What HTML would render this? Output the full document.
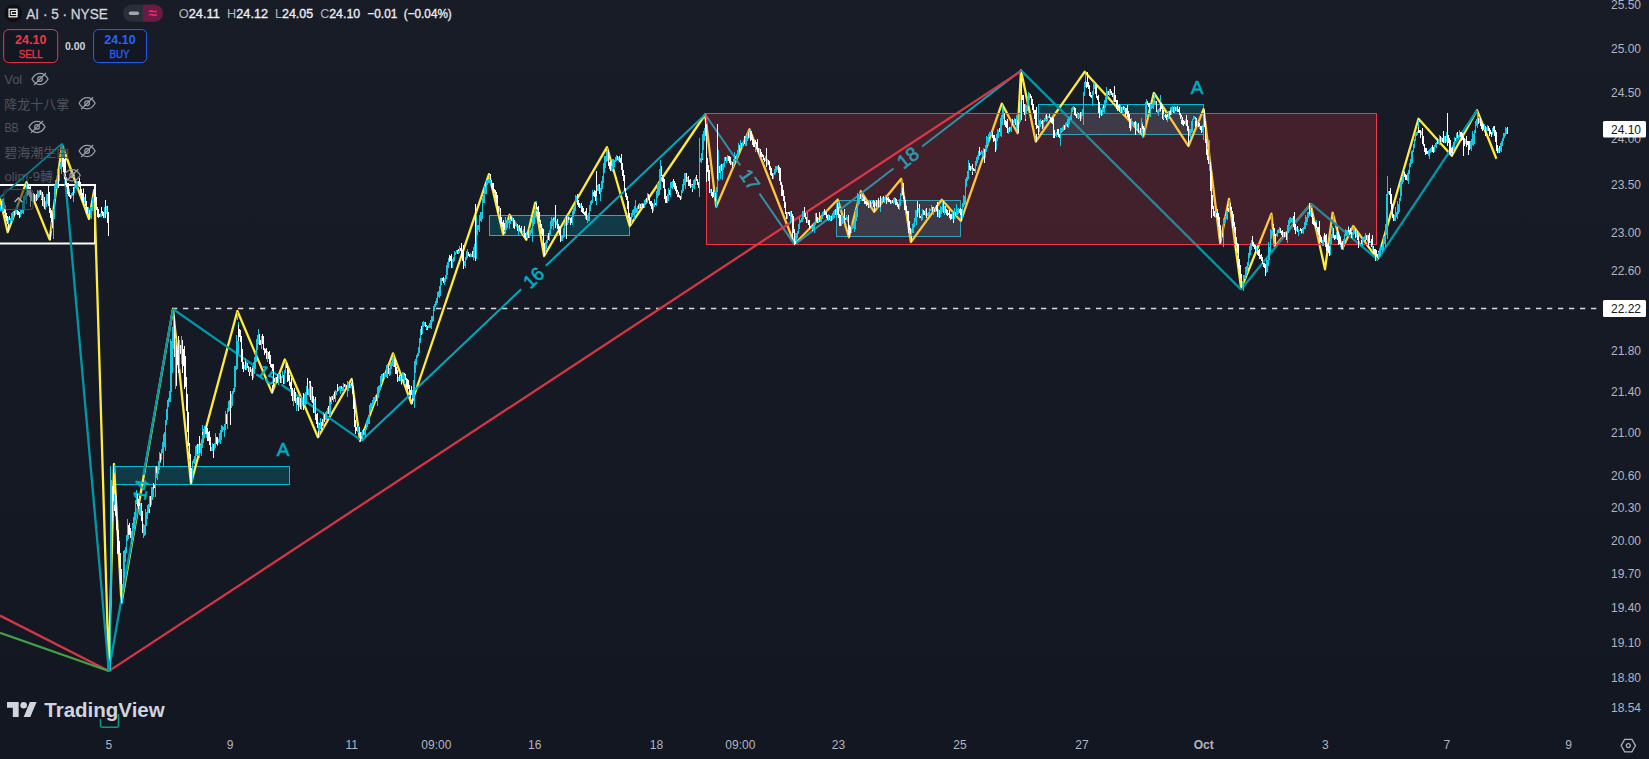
<!DOCTYPE html>
<html><head><meta charset="utf-8"><title>AI 24.10 chart</title>
<style>
html,body{margin:0;padding:0;background:#131722;}
body{width:1649px;height:759px;overflow:hidden;position:relative;font-family:"Liberation Sans","Noto Sans CJK SC",sans-serif;}
svg{position:absolute;left:0;top:0;display:block}
text{font-family:"Liberation Sans","Noto Sans CJK SC",sans-serif;}
</style></head><body>
<svg width="1649" height="759" viewBox="0 0 1649 759">
<defs><linearGradient id="bg" x1="0" y1="0" x2="0" y2="1"><stop offset="0" stop-color="#181c27"/><stop offset="0.965" stop-color="#131722"/><stop offset="1" stop-color="#131722"/></linearGradient></defs>
<rect width="1649" height="759" fill="url(#bg)"/>
<!-- indicator boxes -->
<g fill="rgba(0,188,212,0.2)" stroke="#00bcd4" stroke-width="1">
<rect x="113.5" y="466.5" width="176" height="18"/>
<rect x="489.5" y="215.5" width="140" height="20"/>
<rect x="836.5" y="200.5" width="124" height="36"/>
<rect x="1038.5" y="104.5" width="165" height="30"/>
</g>
<!-- white range box -->
<rect x="-5" y="185" width="100" height="58.5" fill="none" stroke="#ffffff" stroke-width="2"/>
<!-- dashed level -->
<path d="M172 308.5H1597" stroke="#d9d9d9" stroke-width="1.3" stroke-dasharray="5.3 5.7" fill="none"/>
<!-- yellow zigzag -->
<polyline points="0.0,198.5 7.7,232.2 26.5,182.2 49.7,239.6 62.0,145.0 89.0,219.0 94.2,190.0 108.8,670.5 114.0,464.0 121.5,603.0 173.0,309.0 191.0,483.4 237.4,311.0 272.0,392.6 284.8,359.5 318.0,437.2 351.6,379.0 360.1,441.2 393.0,353.4 411.5,403.5 489.0,174.2 503.2,234.3 509.6,214.8 526.3,239.7 535.2,202.7 544.1,256.0 607.0,147.2 629.7,226.0 705.2,114.5 716.2,206.7 749.5,129.2 794.6,244.0 837.8,199.5 848.9,237.3 860.8,191.0 874.2,211.8 901.2,178.8 910.9,242.1 941.8,199.7 960.9,220.9 1001.8,103.6 1017.6,133.3 1021.0,70.4 1035.8,141.5 1084.6,71.8 1143.4,136.3 1153.9,92.8 1188.5,146.1 1203.6,109.3 1220.2,243.3 1229.0,198.8 1241.2,288.5 1271.4,213.6 1274.8,246.4 1310.6,204.2 1325.0,269.3 1332.6,212.6 1342.3,248.6 1353.2,226.0 1377.6,259.2 1418.5,118.8 1451.8,155.8 1477.0,110.3 1496.4,158.8" fill="none" stroke="#ffeb3b" stroke-width="2.3" stroke-linejoin="round"/>
<!-- teal zigzag -->
<g fill="none" stroke="#0097a7" stroke-width="2.3" stroke-linecap="butt">
<path stroke="#008594" stroke-width="1.6" d="M0.0 197.6L62.0 143.7"/>
<path d="M62.0 143.7L108.8 670.5"/>
<path d="M108.8 670.5L138.3 504.5M143.5 475.0L173.0 309.0"/>
<path d="M173.0 309.0L253.4 365.1M281.3 384.5L361.7 440.6"/>
<path stroke="#00a8bd" stroke-width="2" d="M361.7 440.6L521.1 289.3M545.8 265.8L705.2 114.5"/>
<path stroke="#00a8bd" stroke-width="2" d="M705.2 114.5L740.3 165.5M759.5 193.6L794.6 244.6"/>
<path stroke="#00a8bd" stroke-width="2" d="M794.6 244.6L893.5 168.5M922.1 146.5L1021.0 70.4"/>
<path d="M1021.0 70.4L1241.0 289.5"/>
<path d="M1241.0 289.5L1311.0 203.6"/>
<path d="M1311.0 203.6L1377.6 259.5"/>
<path d="M1377.6 259.5L1477.0 110.3"/>
</g>
<g fill="#00b0c6" stroke="#00b0c6" stroke-width="0.6" font-family='"Liberation Sans","Noto Sans CJK SC",sans-serif'>
<text x="140.9" y="489.8" font-size="18.5" text-anchor="middle" dominant-baseline="central" transform="rotate(-79.9 140.9 489.8)">14</text>
<text x="267.4" y="374.8" font-size="18.5" text-anchor="middle" dominant-baseline="central" transform="rotate(34.9 267.4 374.8)">15</text>
<text x="533.5" y="277.6" font-size="18.5" text-anchor="middle" dominant-baseline="central" transform="rotate(-43.5 533.5 277.6)">16</text>
<text x="749.9" y="179.6" font-size="18.5" text-anchor="middle" dominant-baseline="central" transform="rotate(55.5 749.9 179.6)">17</text>
<text x="907.8" y="157.5" font-size="19.5" text-anchor="middle" dominant-baseline="central" transform="rotate(-37.6 907.8 157.5)">18</text>
</g>
<!-- trend lines -->
<path d="M0 615.6L108.8 671.1L1021 71.1" fill="none" stroke="#d43646" stroke-width="2.3" stroke-linejoin="round"/>
<path d="M0 632.8L108.8 671" fill="none" stroke="#43a047" stroke-width="2.2"/>
<!-- red zone -->
<rect x="706.5" y="113.5" width="670" height="131" fill="rgba(242,54,69,0.2)" stroke="#f23645" stroke-width="1"/>
<!-- candles -->
<path d="M1.5 201V209M4.5 202V213M5.5 205V218M6.5 213V221M7.5 216V224M8.5 224V232M9.5 216V220M14.5 211V215M17.5 209V215M18.5 211V215M19.5 212V218M27.5 185V196M28.5 184V195M29.5 187V197M30.5 186V207M31.5 194V201M33.5 193V198M34.5 194V202M36.5 194V201M40.5 190V195M41.5 199V200M42.5 192V206M44.5 197V209M48.5 185V206M49.5 192V213M50.5 208V218M50.5 232V240M51.5 210V222M52.5 214V228M58.5 175V188M62.5 157V167M63.5 157V172M64.5 159V179M65.5 158V185M66.5 177V187M67.5 183V194M68.5 183V196M69.5 192V197M70.5 195V199M73.5 187V195M78.5 181V186M79.5 178V187M80.5 182V195M81.5 189V200M82.5 193V202M83.5 189V205M85.5 194V206M86.5 201V214M87.5 207V213M89.5 210V219M94.5 187V202M95.5 192V206M96.5 197V210M97.5 207V217M98.5 209V218M99.5 214V217M101.5 207V213M102.5 211V216M103.5 212V218M105.5 200V218M107.5 206V223M108.5 212V236M112.5 486V521M113.5 470V501M114.5 505V511M115.5 490V516M116.5 496V530M117.5 520V554M118.5 530V553M119.5 541V568M120.5 553V584M121.5 569V603M128.5 525V535M129.5 523V535M130.5 528V538M137.5 494V506M138.5 499V509M139.5 504V506M141.5 503V521M142.5 511V533M149.5 509V513M150.5 496V507M153.5 483V489M154.5 485V488M156.5 466V473M160.5 454V462M174.5 316V357M176.5 345V386M177.5 350V365M178.5 336V373M180.5 345V354M182.5 340V373M183.5 349V366M184.5 346V389M185.5 356V387M186.5 377V411M187.5 394V432M188.5 412V446M189.5 443V459M190.5 454V482M191.5 468V483M197.5 444V454M199.5 436V453M202.5 432V435M205.5 430V434M206.5 425V434M207.5 428V441M208.5 432V441M209.5 431V445M210.5 437V451M213.5 444V458M216.5 437V444M217.5 437V445M226.5 414V424M230.5 391V425M238.5 325V341M239.5 329V337M240.5 330V342M241.5 336V362M242.5 349V369M243.5 362V372M245.5 361V370M247.5 363V368M248.5 366V372M249.5 372V376M250.5 367V372M252.5 368V380M259.5 334V345M260.5 340V345M262.5 334V344M263.5 336V350M264.5 348V355M265.5 349V353M266.5 348V359M268.5 352V359M269.5 351V364M270.5 355V367M271.5 364V368M272.5 364V371M272.5 385V393M273.5 364V386M274.5 378V382M276.5 377V381M277.5 374V383M280.5 374V383M283.5 375V384M286.5 365V368M287.5 363V382M288.5 370V381M289.5 375V386M290.5 382V389M291.5 378V396M292.5 388V401M294.5 388V401M295.5 392V403M297.5 397V405M298.5 397V411M300.5 398V409M303.5 393V410M307.5 378V395M309.5 381V383M310.5 381V400M312.5 387V403M313.5 396V413M315.5 397V420M316.5 414V424M317.5 413V428M318.5 431V437M319.5 423V425M321.5 422V430M322.5 419V426M324.5 414V422M328.5 406V414M330.5 397V402M332.5 396V400M334.5 392V399M337.5 384V391M341.5 386V389M344.5 384V387M346.5 385V388M349.5 384V388M351.5 383V386M352.5 380V394M353.5 386V409M354.5 398V427M355.5 420V434M356.5 427V431M359.5 427V434M360.5 432V441M363.5 429V434M376.5 395V401M383.5 373V378M387.5 377V378M388.5 366V374M394.5 359V367M395.5 360V374M396.5 367V374M397.5 370V382M399.5 375V381M401.5 375V384M404.5 373V375M405.5 374V380M406.5 378V387M407.5 379V390M408.5 380V389M409.5 385V395M410.5 390V398M411.5 386V395M412.5 398V404M421.5 326V335M425.5 322V327M426.5 325V326M426.5 329V330M427.5 326V330M442.5 278V281M443.5 277V283M449.5 255V262M450.5 256V261M451.5 254V268M457.5 250V254M458.5 249V251M460.5 248V251M461.5 243V257M462.5 250V261M463.5 245V269M468.5 252V256M469.5 254V257M472.5 251V257M475.5 204V261M490.5 174V180M491.5 180V188M492.5 183V190M493.5 183V193M494.5 189V193M495.5 190V198M496.5 192V203M497.5 195V213M498.5 206V211M500.5 208V223M501.5 217V224M502.5 222V227M503.5 220V234M504.5 223V230M504.5 232V233M510.5 216V219M511.5 217V221M513.5 218V228M514.5 220V229M517.5 224V231M519.5 225V230M520.5 228V231M521.5 226V234M524.5 226V237M525.5 233V240M526.5 238V240M528.5 234V238M536.5 203V209M537.5 207V210M538.5 206V220M539.5 212V222M540.5 220V228M541.5 224V234M542.5 228V236M543.5 229V250M544.5 243V256M548.5 233V240M553.5 218V220M555.5 205V228M557.5 219V229M558.5 224V232M559.5 226V235M560.5 227V242M566.5 216V239M568.5 217V220M570.5 218V225M571.5 217V223M577.5 194V205M578.5 200V207M579.5 203V208M581.5 203V212M582.5 206V213M583.5 208V214M584.5 212V215M585.5 211V216M586.5 208V220M593.5 192V196M594.5 190V197M595.5 191V201M596.5 171V196M599.5 184V194M608.5 150V166M609.5 162V169M610.5 162V171M617.5 156V160M619.5 156V162M620.5 158V163M621.5 154V170M622.5 163V176M623.5 170V181M624.5 175V191M625.5 188V197M626.5 193V200M627.5 196V209M628.5 201V218M629.5 213V225M630.5 217V226M638.5 205V209M640.5 204V208M642.5 204V207M643.5 204V208M646.5 198V202M648.5 194V200M649.5 196V204M650.5 201V206M651.5 201V209M652.5 203V213M655.5 203V205M661.5 166V176M662.5 175V182M663.5 178V188M664.5 179V199M665.5 189V203M666.5 196V203M669.5 190V195M673.5 179V187M674.5 181V189M675.5 183V191M676.5 186V194M677.5 190V192M677.5 195V197M678.5 192V197M679.5 195V198M680.5 196V200M686.5 173V182M688.5 176V186M689.5 180V186M690.5 179V188M692.5 184V185M692.5 189V192M696.5 175V181M697.5 179V185M698.5 182V188M702.5 159V160M705.5 118V136M706.5 124V182M707.5 158V172M708.5 165V181M709.5 170V193M711.5 189V196M712.5 192V198M713.5 190V197M715.5 193V201M717.5 124V179M719.5 166V173M721.5 164V171M725.5 157V161M728.5 156V161M729.5 156V163M730.5 157V165M732.5 162V167M735.5 156V159M739.5 145V152M741.5 143V146M744.5 136V144M748.5 132V138M750.5 131V141M751.5 131V140M752.5 135V145M753.5 139V147M754.5 141V147M755.5 140V144M756.5 142V149M757.5 139V152M758.5 148V154M760.5 149V157M761.5 152V157M762.5 154V157M763.5 155V160M764.5 158V162M766.5 148V167M768.5 160V165M769.5 161V170M770.5 166V175M771.5 168V176M772.5 173V179M778.5 165V173M779.5 167V181M780.5 168V185M781.5 182V196M782.5 185V196M783.5 190V201M784.5 196V208M785.5 202V214M786.5 212V219M788.5 212V214M789.5 212V216M791.5 211V217M792.5 214V239M793.5 216V233M794.5 229V245M795.5 241V244M804.5 207V217M805.5 213V219M806.5 217V223M808.5 220V225M809.5 220V230M810.5 226V228M812.5 225V226M812.5 230V231M816.5 213V221M817.5 217V223M819.5 212V222M824.5 209V215M825.5 212V215M826.5 212V218M827.5 215V220M829.5 215V220M831.5 216V221M835.5 209V215M837.5 203V215M838.5 207V218M839.5 214V226M840.5 215V226M844.5 209V223M845.5 218V220M848.5 215V235M849.5 225V237M850.5 227V233M860.5 194V199M862.5 195V197M862.5 199V201M863.5 197V201M864.5 197V204M865.5 201V204M866.5 201V206M867.5 202V205M868.5 203V208M870.5 201V207M873.5 200V207M874.5 201V212M876.5 200V207M878.5 198V207M880.5 196V207M883.5 196V202M886.5 197V204M887.5 198V200M888.5 197V202M889.5 199V202M890.5 200V204M892.5 200V203M895.5 198V205M896.5 199V205M897.5 202V207M898.5 204V209M902.5 188V195M903.5 183V199M904.5 196V210M905.5 200V210M906.5 206V214M907.5 211V221M908.5 211V233M909.5 221V230M910.5 228V234M911.5 236V242M917.5 201V217M919.5 204V218M920.5 216V218M923.5 210V215M924.5 211V215M926.5 208V218M932.5 207V212M933.5 207V208M934.5 209V212M936.5 205V211M937.5 202V217M939.5 210V218M943.5 201V213M945.5 206V213M946.5 209V215M947.5 210V216M948.5 213V215M949.5 210V218M950.5 214V220M951.5 214V219M953.5 213V223M955.5 212V216M959.5 209V213M960.5 208V215M961.5 209V221M969.5 163V170M970.5 166V171M972.5 164V169M972.5 172V175M973.5 168V171M974.5 169V171M979.5 147V156M984.5 149V163M989.5 137V138M992.5 132V138M993.5 135V142M994.5 135V141M995.5 138V152M999.5 128V132M1004.5 113V125M1005.5 120V127M1006.5 121V128M1007.5 119V133M1009.5 127V132M1012.5 119V125M1015.5 119V125M1017.5 120V126M1018.5 122V133M1021.5 72V120M1022.5 95V100M1023.5 95V112M1024.5 104V115M1025.5 119V121M1030.5 94V98M1031.5 96V105M1032.5 99V110M1033.5 104V113M1034.5 110V119M1035.5 110V125M1036.5 107V129M1036.5 134V142M1037.5 125V128M1038.5 126V135M1041.5 121V124M1042.5 120V129M1046.5 114V119M1049.5 114V118M1050.5 117V122M1051.5 118V123M1052.5 117V124M1053.5 118V138M1054.5 130V138M1057.5 129V135M1058.5 129V137M1059.5 134V138M1064.5 125V130M1067.5 124V127M1074.5 107V115M1075.5 108V116M1076.5 114V118M1078.5 113V114M1078.5 118V119M1080.5 112V121M1085.5 81V82M1086.5 82V88M1087.5 72V87M1088.5 82V89M1089.5 85V96M1090.5 92V97M1091.5 95V98M1095.5 85V94M1096.5 85V98M1097.5 96V100M1098.5 95V113M1099.5 102V118M1101.5 110V116M1103.5 105V108M1108.5 91V95M1110.5 89V93M1111.5 91V95M1112.5 93V97M1114.5 86V102M1115.5 95V102M1116.5 100V109M1117.5 100V111M1118.5 105V108M1119.5 104V112M1121.5 107V113M1123.5 106V110M1124.5 107V108M1125.5 108V117M1126.5 108V114M1127.5 105V117M1128.5 111V120M1129.5 114V128M1130.5 119V131M1134.5 122V125M1135.5 121V135M1138.5 123V133M1140.5 128V133M1142.5 124V129M1143.5 126V136M1144.5 128V131M1147.5 101V105M1148.5 103V107M1149.5 103V111M1156.5 101V112M1160.5 102V111M1161.5 103V109M1162.5 105V119M1163.5 110V114M1163.5 119V120M1165.5 114V118M1166.5 115V120M1167.5 114V117M1169.5 111V116M1170.5 110V115M1173.5 107V113M1175.5 107V111M1177.5 106V112M1178.5 109V112M1179.5 107V115M1180.5 113V119M1181.5 115V117M1181.5 120V124M1182.5 117V125M1183.5 120V126M1184.5 121V124M1186.5 115V126M1187.5 120V131M1188.5 126V146M1195.5 117V119M1195.5 121V127M1196.5 118V126M1198.5 122V127M1199.5 123V126M1200.5 126V130M1201.5 126V133M1204.5 110V127M1205.5 121V143M1206.5 139V155M1207.5 149V160M1208.5 156V164M1210.5 162V191M1211.5 171V218M1212.5 195V209M1213.5 206V216M1214.5 211V217M1216.5 213V217M1217.5 209V220M1218.5 213V227M1219.5 217V238M1220.5 225V243M1222.5 233V237M1227.5 204V211M1228.5 208V212M1230.5 203V210M1231.5 207V217M1232.5 211V228M1233.5 214V226M1234.5 222V233M1235.5 227V251M1236.5 237V246M1237.5 243V253M1238.5 244V268M1239.5 259V275M1240.5 265V278M1241.5 274V288M1252.5 236V246M1253.5 242V247M1254.5 244V249M1255.5 245V253M1257.5 248V255M1258.5 250V256M1259.5 249V259M1260.5 255V259M1261.5 254V261M1262.5 257V264M1263.5 263V267M1264.5 263V268M1265.5 264V276M1273.5 224V232M1274.5 228V236M1275.5 234V246M1280.5 228V233M1281.5 231V235M1282.5 230V237M1284.5 232V237M1286.5 232V240M1293.5 216V227M1294.5 212V230M1295.5 224V234M1297.5 226V232M1300.5 228V231M1301.5 229V233M1309.5 203V214M1311.5 208V217M1312.5 213V224M1313.5 218V225M1314.5 221V226M1315.5 222V229M1316.5 223V228M1317.5 227V232M1318.5 227V235M1319.5 221V243M1320.5 235V242M1321.5 237V243M1324.5 233V242M1325.5 235V247M1326.5 234V251M1327.5 244V250M1328.5 243V253M1329.5 246V256M1333.5 228V238M1334.5 235V240M1335.5 235V239M1337.5 227V240M1338.5 232V245M1339.5 235V244M1340.5 237V245M1341.5 243V245M1342.5 241V249M1348.5 227V232M1349.5 230V235M1350.5 228V234M1351.5 232V238M1355.5 229V238M1357.5 231V240M1358.5 235V248M1361.5 240V244M1365.5 240V241M1366.5 235V240M1368.5 235V248M1369.5 233V243M1371.5 239V247M1372.5 235V245M1373.5 246V254M1374.5 249V254M1375.5 249V261M1376.5 250V256M1377.5 254V258M1378.5 251V252M1378.5 258V259M1389.5 191V195M1390.5 188V204M1391.5 194V209M1392.5 204V218M1393.5 214V221M1404.5 172V177M1405.5 174V180M1406.5 175V180M1418.5 127V133M1419.5 130V133M1420.5 130V138M1422.5 128V144M1423.5 136V146M1424.5 144V152M1425.5 148V155M1426.5 148V154M1427.5 151V154M1432.5 145V152M1433.5 147V153M1437.5 139V144M1440.5 136V142M1442.5 138V142M1443.5 131V143M1445.5 136V143M1447.5 113V146M1448.5 135V143M1449.5 138V154M1450.5 140V155M1451.5 148V153M1452.5 147V156M1455.5 138V141M1457.5 132V138M1460.5 132V137M1461.5 132V141M1462.5 133V140M1463.5 136V156M1464.5 138V146M1466.5 136V147M1467.5 141V145M1468.5 141V155M1469.5 141V150M1478.5 118V124M1480.5 118V126M1481.5 122V129M1482.5 123V131M1483.5 125V130M1485.5 126V136M1488.5 126V131M1489.5 128V136M1490.5 130V134M1491.5 132V137M1493.5 127V131M1494.5 126V136M1495.5 130V142M1496.5 132V151M1497.5 145V153M1499.5 146V153M1507.5 127V134" stroke="#ffffff" stroke-width="1" fill="none" shape-rendering="crispEdges"/>
<path d="M0.5 205V211M2.5 199V212M3.5 198V211M8.5 217V224M10.5 218V223M11.5 213V221M12.5 212V222M13.5 211V218M15.5 208V215M16.5 205V214M20.5 210V217M21.5 210V214M22.5 201V213M23.5 196V214M24.5 195V210M25.5 192V200M26.5 183V204M32.5 193V202M35.5 195V202M37.5 190V200M38.5 191V198M39.5 190V197M41.5 191V199M43.5 194V207M45.5 201V210M46.5 194V207M47.5 194V204M51.5 222V231M53.5 209V239M54.5 185V219M55.5 180V199M56.5 181V189M57.5 169V189M59.5 166V181M60.5 162V169M61.5 158V174M69.5 189V192M71.5 193V198M72.5 192V196M73.5 195V202M74.5 185V193M75.5 183V188M76.5 181V189M77.5 181V190M83.5 188V189M84.5 197V204M88.5 207V214M90.5 207V218M91.5 207V219M92.5 198V211M93.5 196V202M100.5 213V217M101.5 213V217M104.5 207V218M106.5 206V214M110.5 466V671M111.5 480V607M113.5 501V513M114.5 465V473M114.5 494V505M122.5 584V603M123.5 551V588M124.5 550V578M125.5 547V562M126.5 535V553M127.5 519V541M128.5 535V539M131.5 531V544M132.5 523V540M133.5 517V528M134.5 512V529M135.5 500V520M136.5 490V504M139.5 506V515M140.5 503V516M143.5 524V538M144.5 525V536M145.5 509V535M146.5 512V526M147.5 505V519M148.5 504V513M149.5 496V509M151.5 487V505M152.5 487V500M153.5 489V497M155.5 466V497M156.5 473V478M157.5 467V480M158.5 461V474M159.5 452V470M160.5 453V454M160.5 462V463M161.5 449V460M162.5 442V453M163.5 434V466M164.5 432V447M165.5 420V451M166.5 409V425M167.5 400V420M168.5 398V407M169.5 391V402M170.5 339V402M171.5 341V392M172.5 327V373M173.5 310V349M175.5 338V389M179.5 340V369M181.5 336V364M192.5 461V482M193.5 459V463M194.5 456V464M195.5 446V463M196.5 445V456M198.5 444V456M199.5 453V458M200.5 445V453M201.5 440V456M202.5 425V432M202.5 435V448M203.5 429V443M204.5 426V438M206.5 434V438M211.5 447V451M212.5 443V451M214.5 443V450M215.5 433V448M217.5 445V446M218.5 439V443M219.5 433V442M220.5 430V444M221.5 425V440M222.5 426V432M223.5 427V430M224.5 424V437M225.5 411V430M227.5 408V429M228.5 401V412M229.5 400V411M231.5 394V408M232.5 391V406M233.5 388V394M234.5 366V392M235.5 366V387M236.5 335V370M237.5 312V320M237.5 341V369M238.5 322V325M238.5 341V354M244.5 365V369M245.5 358V361M246.5 362V370M249.5 367V372M251.5 369V376M252.5 366V368M253.5 362V378M254.5 357V374M255.5 352V369M256.5 339V362M257.5 335V350M258.5 329V344M261.5 336V349M267.5 351V362M275.5 377V387M278.5 374V385M279.5 374V379M281.5 376V383M282.5 371V378M284.5 370V384M285.5 361V373M293.5 390V406M296.5 398V411M299.5 396V407M301.5 396V410M302.5 399V406M304.5 394V405M305.5 392V406M306.5 386V404M308.5 389V395M309.5 383V397M311.5 386V402M314.5 399V413M318.5 422V431M319.5 425V436M320.5 418V429M323.5 412V429M325.5 412V420M326.5 411V420M327.5 408V414M329.5 396V415M330.5 402V416M331.5 396V404M333.5 394V402M334.5 391V392M335.5 390V402M336.5 391V395M337.5 391V392M338.5 387V391M339.5 386V390M340.5 386V394M341.5 389V391M342.5 387V391M343.5 383V392M345.5 384V388M347.5 381V397M348.5 383V391M350.5 384V388M351.5 381V383M357.5 427V432M358.5 426V433M361.5 432V436M362.5 430V441M364.5 430V435M365.5 428V437M366.5 420V430M367.5 419V427M368.5 415V424M369.5 405V424M370.5 403V412M371.5 403V410M372.5 400V407M373.5 397V405M374.5 397V402M375.5 395V400M377.5 387V406M378.5 386V398M379.5 385V393M380.5 376V389M381.5 374V384M382.5 374V379M384.5 373V378M385.5 373V376M386.5 365V377M387.5 364V377M389.5 368V376M390.5 363V375M391.5 362V369M392.5 358V366M393.5 354V367M398.5 377V381M400.5 376V381M401.5 384V385M402.5 372V379M403.5 372V378M404.5 375V384M412.5 390V398M413.5 380V399M414.5 361V408M415.5 359V373M416.5 355V365M417.5 353V358M418.5 347V356M419.5 338V353M420.5 329V343M422.5 322V334M423.5 321V327M424.5 322V326M426.5 326V329M428.5 325V328M429.5 323V328M430.5 320V328M431.5 316V329M432.5 316V322M433.5 306V321M434.5 304V311M435.5 301V307M436.5 298V305M437.5 292V303M438.5 291V297M439.5 286V298M440.5 278V296M441.5 278V285M444.5 278V285M445.5 275V282M446.5 265V279M447.5 262V275M448.5 258V268M452.5 259V268M453.5 257V262M454.5 251V261M455.5 252V255M456.5 250V253M458.5 251V254M459.5 246V253M464.5 261V266M465.5 257V268M466.5 251V260M467.5 249V258M470.5 253V257M471.5 254V257M473.5 247V260M474.5 244V258M476.5 215V259M477.5 225V235M478.5 225V230M479.5 215V232M480.5 212V221M481.5 212V222M482.5 198V219M483.5 195V203M484.5 186V203M485.5 188V194M486.5 180V194M487.5 180V185M488.5 179V183M489.5 175V183M490.5 180V186M499.5 206V212M504.5 230V232M505.5 217V234M506.5 222V230M507.5 219V228M508.5 220V223M509.5 215V229M510.5 219V224M512.5 217V221M515.5 222V226M516.5 223V227M518.5 227V235M522.5 231V234M523.5 229V235M526.5 232V238M527.5 235V239M529.5 228V238M530.5 230V235M531.5 228V233M532.5 217V242M533.5 213V226M534.5 211V224M535.5 204V218M536.5 201V203M536.5 209V211M545.5 242V253M546.5 240V249M547.5 236V243M549.5 230V241M550.5 221V235M551.5 217V229M552.5 219V226M553.5 217V218M553.5 220V230M554.5 217V222M556.5 221V225M561.5 236V241M562.5 235V241M563.5 228V238M564.5 223V237M565.5 218V226M567.5 216V225M568.5 215V217M568.5 220V223M569.5 217V220M572.5 211V225M573.5 208V217M574.5 206V214M575.5 195V211M576.5 196V202M580.5 204V208M585.5 216V219M587.5 215V223M588.5 213V221M589.5 205V221M590.5 201V211M591.5 200V205M592.5 190V203M596.5 196V205M597.5 185V191M598.5 184V191M600.5 188V201M601.5 181V192M602.5 176V189M603.5 163V183M604.5 156V173M605.5 156V168M606.5 151V162M607.5 148V161M611.5 167V171M612.5 159V172M613.5 159V169M614.5 160V167M615.5 157V162M616.5 155V161M618.5 157V161M631.5 213V224M632.5 210V217M633.5 209V215M634.5 206V220M635.5 200V213M636.5 208V213M637.5 206V212M638.5 204V205M639.5 203V210M641.5 203V207M642.5 203V204M644.5 200V208M645.5 199V205M646.5 202V204M647.5 193V203M653.5 204V211M654.5 199V207M656.5 191V206M657.5 183V198M658.5 183V196M659.5 169V195M660.5 160V190M667.5 194V203M668.5 188V201M670.5 182V197M671.5 182V188M672.5 181V189M677.5 192V195M681.5 190V199M682.5 184V193M683.5 179V191M684.5 173V185M685.5 173V189M687.5 177V182M691.5 184V187M692.5 185V189M693.5 180V188M694.5 179V189M695.5 177V185M699.5 138V197M700.5 158V162M701.5 153V163M702.5 134V159M703.5 131V150M704.5 128V141M705.5 115V118M710.5 189V193M714.5 192V197M716.5 187V207M717.5 179V192M718.5 150V181M720.5 165V179M722.5 164V180M723.5 163V170M724.5 157V167M726.5 157V163M727.5 155V161M731.5 161V165M733.5 159V167M734.5 152V164M736.5 154V158M737.5 150V160M738.5 143V156M740.5 140V147M742.5 142V148M743.5 141V144M745.5 138V146M746.5 135V146M747.5 132V141M748.5 131V132M748.5 138V139M749.5 132V138M750.5 130V131M755.5 144V152M759.5 148V154M765.5 156V161M767.5 159V165M773.5 173V179M774.5 169V175M775.5 166V174M776.5 166V172M777.5 166V170M787.5 212V219M790.5 211V223M791.5 217V222M795.5 233V241M796.5 233V243M797.5 231V238M798.5 224V234M799.5 218V229M800.5 220V223M801.5 218V222M802.5 211V222M803.5 211V219M807.5 212V223M811.5 227V229M812.5 226V230M813.5 224V230M814.5 222V233M815.5 213V225M818.5 219V223M820.5 219V222M821.5 216V222M822.5 212V219M823.5 211V216M828.5 214V221M830.5 216V221M832.5 213V220M833.5 211V219M834.5 210V218M836.5 207V218M838.5 201V207M841.5 217V226M842.5 215V224M843.5 218V223M846.5 215V220M847.5 217V222M851.5 223V233M852.5 225V229M853.5 223V228M854.5 220V232M855.5 210V229M856.5 208V221M857.5 193V217M858.5 194V206M859.5 195V204M861.5 192V200M862.5 197V199M865.5 200V201M869.5 201V208M871.5 202V207M872.5 200V204M875.5 202V206M877.5 201V209M879.5 201V206M880.5 207V212M881.5 198V205M882.5 197V201M884.5 197V203M885.5 195V199M887.5 196V198M887.5 200V202M891.5 201V204M893.5 198V204M894.5 197V203M899.5 199V210M900.5 193V206M901.5 180V196M911.5 229V236M912.5 224V233M913.5 223V233M914.5 218V227M915.5 210V222M916.5 210V225M918.5 208V213M921.5 214V221M922.5 209V220M925.5 209V216M927.5 213V216M928.5 212V216M929.5 208V215M930.5 209V211M931.5 205V211M933.5 208V215M935.5 209V212M936.5 211V212M938.5 209V217M940.5 206V217M941.5 207V214M942.5 201V212M944.5 206V215M952.5 212V219M954.5 208V219M956.5 204V216M957.5 209V215M958.5 208V214M962.5 203V219M963.5 195V207M964.5 196V205M965.5 179V205M966.5 177V187M967.5 171V181M968.5 160V179M971.5 166V170M972.5 169V172M975.5 161V173M976.5 157V166M977.5 155V163M978.5 151V160M980.5 152V155M981.5 150V154M982.5 151V157M983.5 148V156M985.5 145V158M986.5 136V152M987.5 137V145M988.5 134V144M989.5 132V137M990.5 132V135M991.5 132V135M996.5 134V150M997.5 129V141M998.5 130V138M1000.5 118V136M1001.5 115V137M1002.5 105V113M1002.5 114V125M1003.5 109V119M1008.5 128V134M1010.5 127V131M1011.5 120V132M1013.5 120V123M1014.5 118V123M1016.5 115V129M1019.5 114V124M1020.5 102V122M1021.5 71V72M1025.5 104V119M1026.5 105V114M1027.5 98V111M1028.5 92V106M1029.5 93V100M1039.5 120V132M1040.5 119V127M1043.5 120V128M1044.5 118V122M1045.5 115V121M1046.5 119V122M1047.5 116V121M1048.5 116V118M1055.5 133V136M1056.5 132V137M1060.5 128V146M1061.5 128V133M1062.5 127V132M1063.5 125V131M1065.5 123V129M1066.5 122V126M1067.5 119V124M1068.5 117V128M1069.5 117V124M1070.5 115V120M1071.5 108V120M1072.5 107V112M1073.5 106V110M1077.5 112V118M1078.5 114V118M1079.5 114V118M1081.5 112V119M1082.5 109V116M1083.5 92V125M1084.5 82V96M1085.5 73V81M1085.5 82V87M1092.5 91V106M1093.5 82V95M1094.5 83V89M1100.5 108V115M1102.5 107V115M1103.5 108V112M1104.5 100V113M1105.5 97V108M1106.5 87V103M1107.5 91V99M1109.5 89V96M1110.5 93V95M1113.5 93V103M1120.5 105V112M1122.5 107V113M1124.5 108V112M1131.5 118V129M1132.5 121V126M1133.5 122V126M1136.5 122V129M1137.5 124V128M1139.5 131V134M1141.5 118V133M1142.5 122V124M1142.5 129V138M1145.5 102V134M1146.5 99V117M1150.5 104V117M1151.5 104V109M1152.5 103V108M1153.5 100V109M1154.5 94V105M1155.5 101V105M1157.5 110V113M1158.5 109V116M1159.5 108V112M1160.5 95V102M1160.5 111V112M1163.5 114V119M1164.5 115V117M1167.5 117V122M1168.5 111V119M1170.5 107V110M1171.5 107V115M1172.5 106V112M1174.5 106V113M1176.5 107V111M1181.5 117V120M1185.5 119V125M1189.5 129V136M1190.5 129V139M1191.5 121V133M1192.5 119V132M1193.5 116V120M1194.5 116V119M1195.5 119V121M1197.5 121V127M1199.5 126V129M1202.5 125V132M1203.5 119V140M1209.5 140V171M1215.5 213V218M1216.5 211V213M1221.5 232V239M1223.5 218V247M1224.5 219V224M1225.5 216V220M1226.5 211V219M1227.5 211V220M1229.5 200V210M1242.5 281V287M1243.5 275V291M1244.5 275V279M1245.5 267V279M1246.5 266V276M1247.5 262V273M1248.5 253V266M1249.5 246V258M1250.5 243V255M1251.5 240V250M1256.5 246V252M1266.5 258V273M1267.5 260V272M1268.5 242V266M1269.5 247V260M1270.5 229V252M1271.5 215V223M1271.5 230V239M1272.5 229V233M1276.5 233V236M1277.5 230V237M1278.5 229V233M1279.5 227V233M1283.5 232V237M1285.5 233V237M1287.5 225V243M1288.5 220V233M1289.5 218V226M1290.5 217V223M1291.5 218V222M1292.5 218V223M1296.5 227V231M1298.5 229V236M1299.5 230V231M1301.5 233V234M1302.5 228V233M1303.5 227V234M1304.5 222V229M1305.5 215V229M1306.5 217V225M1307.5 212V222M1308.5 212V218M1309.5 214V216M1310.5 210V216M1311.5 205V208M1316.5 220V223M1316.5 228V229M1322.5 240V246M1323.5 236V246M1330.5 237V255M1331.5 234V244M1332.5 226V238M1333.5 214V222M1336.5 232V239M1340.5 236V237M1340.5 245V247M1343.5 239V250M1344.5 234V244M1345.5 229V236M1346.5 230V236M1347.5 230V235M1348.5 226V227M1348.5 232V233M1352.5 232V239M1353.5 227V235M1354.5 229V234M1356.5 231V237M1359.5 241V244M1360.5 243V246M1362.5 238V246M1363.5 237V242M1364.5 236V239M1365.5 233V240M1367.5 235V242M1370.5 241V243M1372.5 245V250M1378.5 252V258M1379.5 249V257M1380.5 246V256M1381.5 247V250M1382.5 244V252M1383.5 237V250M1384.5 236V244M1385.5 224V247M1386.5 194V235M1387.5 176V239M1388.5 191V194M1394.5 215V221M1395.5 207V221M1396.5 212V217M1397.5 201V219M1398.5 204V214M1399.5 198V212M1400.5 182V201M1401.5 181V196M1402.5 176V184M1403.5 174V182M1404.5 169V172M1407.5 173V181M1408.5 170V184M1409.5 163V174M1410.5 159V167M1411.5 151V164M1412.5 150V163M1413.5 144V152M1414.5 139V148M1415.5 132V141M1416.5 132V136M1417.5 131V135M1418.5 120V127M1421.5 131V135M1428.5 150V156M1429.5 149V159M1430.5 148V153M1431.5 147V152M1434.5 145V152M1435.5 143V147M1436.5 142V148M1438.5 140V144M1439.5 135V145M1441.5 137V142M1444.5 136V143M1446.5 132V142M1453.5 142V152M1454.5 137V149M1456.5 133V139M1458.5 135V139M1459.5 130V138M1465.5 139V144M1470.5 141V149M1471.5 139V151M1472.5 131V145M1473.5 134V146M1474.5 130V144M1475.5 121V133M1476.5 119V126M1477.5 111V128M1479.5 117V123M1484.5 124V130M1486.5 127V131M1487.5 125V131M1492.5 128V135M1493.5 126V127M1493.5 131V133M1498.5 148V153M1500.5 143V151M1501.5 141V152M1502.5 138V146M1503.5 133V141M1504.5 133V138M1505.5 127V136M1506.5 128V134" stroke="#14c8e0" stroke-width="1" fill="none" shape-rendering="crispEdges"/>
<!-- A labels -->
<g fill="#00acc1" stroke="#00acc1" stroke-width="0.6" font-size="19" text-anchor="middle">
<text x="283" y="455.5">A</text>
<text x="1197.2" y="94">A</text>
</g>
<!-- green bracket -->
<path d="M100.5 719V725.2Q100.5 727.2 102.5 727.2H116.5Q118.5 727.2 118.5 725.2V714" fill="none" stroke="#089981" stroke-width="1.5"/>
<!-- price axis -->
<g fill="#b2b5be" font-size="12" text-anchor="start">
<text x="1611" y="9.3">25.50</text>
<text x="1611" y="53.0">25.00</text>
<text x="1611" y="97.0">24.50</text>
<text x="1611" y="143.1">24.00</text>
<text x="1611" y="189.3">23.50</text>
<text x="1611" y="237.2">23.00</text>
<text x="1611" y="275.4">22.60</text>
<text x="1611" y="355.2">21.80</text>
<text x="1611" y="395.7">21.40</text>
<text x="1611" y="437.2">21.00</text>
<text x="1611" y="480.1">20.60</text>
<text x="1611" y="512.3">20.30</text>
<text x="1611" y="545.2">20.00</text>
<text x="1611" y="578.1">19.70</text>
<text x="1611" y="612.1">19.40</text>
<text x="1611" y="647.2">19.10</text>
<text x="1611" y="681.6">18.80</text>
<text x="1611" y="712.0">18.54</text>
</g>
<rect x="1603" y="121" width="43" height="16.5" rx="1.5" fill="#ffffff"/>
<text x="1611" y="133.6" font-size="12" fill="#131722">24.10</text>
<rect x="1603" y="300" width="43" height="17" rx="1.5" fill="#ffffff"/>
<text x="1611" y="312.8" font-size="12" fill="#131722">22.22</text>
<!-- time axis -->
<g fill="#b2b5be" font-size="12" text-anchor="middle">
<text x="108.8" y="748.8">5</text>
<text x="230.2" y="748.8">9</text>
<text x="351.8" y="748.8">11</text>
<text x="436.3" y="748.8">09:00</text>
<text x="534.8" y="748.8">16</text>
<text x="656.4" y="748.8">18</text>
<text x="740.3" y="748.8">09:00</text>
<text x="838.4" y="748.8">23</text>
<text x="960" y="748.8">25</text>
<text x="1081.9" y="748.8">27</text>
<text x="1203.8" y="748.8" font-weight="bold">Oct</text>
<text x="1325.3" y="748.8">3</text>
<text x="1446.9" y="748.8">7</text>
<text x="1568.5" y="748.8">9</text>
</g>
<g transform="translate(1628.3 745.6)" fill="none" stroke="#b2b5be" stroke-width="1.2"><path d="M-7.2 0L-3.6 -6.2H3.6L7.2 0L3.6 6.2H-3.6Z"/><circle r="2"/></g>
<!-- TradingView logo -->
<g fill="#d1d4dc">
<g transform="translate(7 698.6) scale(0.8333)"><path d="M14 22H7V11H0V4h14v18zM28 22h-8l7.5-18h8L28 22z"/><circle cx="20" cy="8" r="4"/></g>
<text x="44.3" y="716.9" font-size="20.5" font-weight="bold" textLength="120.4" lengthAdjust="spacingAndGlyphs">TradingView</text>
</g>
<!-- legend -->
<circle cx="13.2" cy="13.2" r="8.8" fill="#0f0f11"/>
<g fill="none" stroke="#ffffff"><rect x="9.1" y="9.2" width="7.8" height="7.6" stroke-width="1.2"/><rect x="11.3" y="11.6" width="5.6" height="2.8" stroke-width="1"/></g>
<text x="26.3" y="18.5" font-size="14" fill="#d1d4dc" stroke="#d1d4dc" stroke-width="0.3" textLength="81.5" lengthAdjust="spacingAndGlyphs">AI · 5 · NYSE</text>
<path d="M131.8 4.5H143V21.8H131.8A8.65 8.65 0 0 1 131.8 4.5Z" fill="#2a2e39"/>
<path d="M143 4.5H154.3A8.65 8.65 0 0 1 154.3 21.8H143Z" fill="#6a1b44"/>
<rect x="128.8" y="11.4" width="10.3" height="3.6" rx="1.8" fill="#a3a6b0"/>
<text x="152.5" y="18" font-size="15" font-weight="bold" fill="#f0296e" text-anchor="middle">≈</text>
<g font-size="13" stroke-width="0.35">
<text x="178.8" y="18.4" textLength="41" lengthAdjust="spacingAndGlyphs"><tspan fill="#b2b5be">O</tspan><tspan fill="#eceef2" stroke="#eceef2">24.11</tspan></text>
<text x="227.1" y="18.4" textLength="41" lengthAdjust="spacingAndGlyphs"><tspan fill="#b2b5be">H</tspan><tspan fill="#eceef2" stroke="#eceef2">24.12</tspan></text>
<text x="275.1" y="18.4" textLength="38.1" lengthAdjust="spacingAndGlyphs"><tspan fill="#b2b5be">L</tspan><tspan fill="#eceef2" stroke="#eceef2">24.05</tspan></text>
<text x="320.2" y="18.4" textLength="40" lengthAdjust="spacingAndGlyphs"><tspan fill="#b2b5be">C</tspan><tspan fill="#eceef2" stroke="#eceef2">24.10</tspan></text>
<text x="367.4" y="18.4" fill="#eceef2" stroke="#eceef2" textLength="29.9" lengthAdjust="spacingAndGlyphs">−0.01</text>
<text x="403.8" y="18.4" fill="#eceef2" stroke="#eceef2" textLength="48" lengthAdjust="spacingAndGlyphs">(−0.04%)</text>
</g>
<rect x="3.7" y="29.6" width="54" height="33" rx="5" fill="#131722" stroke="#f23645" stroke-width="1"/>
<text x="30.7" y="44" font-size="12.5" font-weight="bold" fill="#f23645" text-anchor="middle">24.10</text>
<text x="18.7" y="58" font-size="11" fill="#f23645" stroke="#f23645" stroke-width="0.3" textLength="24" lengthAdjust="spacingAndGlyphs">SELL</text>
<text x="75.1" y="50.3" font-size="10.5" font-weight="bold" fill="#d1d4dc" text-anchor="middle">0.00</text>
<rect x="93.6" y="29.6" width="53" height="33" rx="5" fill="#131722" stroke="#2962ff" stroke-width="1"/>
<text x="120" y="44" font-size="12.5" font-weight="bold" fill="#2962ff" text-anchor="middle">24.10</text>
<text x="109.4" y="58" font-size="11" fill="#2962ff" stroke="#2962ff" stroke-width="0.3" textLength="20" lengthAdjust="spacingAndGlyphs">BUY</text>
<g font-size="13" fill="#50535e">
<text x="4.2" y="83.9">Vol</text>
<text x="4.3" y="108.6">降龙十八掌</text>
<text x="4.5" y="132.4" textLength="14.2" lengthAdjust="spacingAndGlyphs">BB</text>
<text x="4.3" y="156.8">碧海潮生曲</text>
<text x="4.5" y="180.7">olim-9轉</text>
</g>
<g transform="translate(40 79)" fill="none" stroke="#9a9da6" stroke-width="1.25"><path d="M-8 0C-5.5 -4.6 -2.5 -5.6 0 -5.6C2.5 -5.6 5.5 -4.6 8 0C5.5 4.6 2.5 5.6 0 5.6C-2.5 5.6 -5.5 4.6 -8 0Z"/><circle r="2.3"/><path d="M-6 6L6 -6"/></g><g transform="translate(87.1 103.2)" fill="none" stroke="#9a9da6" stroke-width="1.25"><path d="M-8 0C-5.5 -4.6 -2.5 -5.6 0 -5.6C2.5 -5.6 5.5 -4.6 8 0C5.5 4.6 2.5 5.6 0 5.6C-2.5 5.6 -5.5 4.6 -8 0Z"/><circle r="2.3"/><path d="M-6 6L6 -6"/></g><g transform="translate(37 126.9)" fill="none" stroke="#9a9da6" stroke-width="1.25"><path d="M-8 0C-5.5 -4.6 -2.5 -5.6 0 -5.6C2.5 -5.6 5.5 -4.6 8 0C5.5 4.6 2.5 5.6 0 5.6C-2.5 5.6 -5.5 4.6 -8 0Z"/><circle r="2.3"/><path d="M-6 6L6 -6"/></g><g transform="translate(87.1 151)" fill="none" stroke="#9a9da6" stroke-width="1.25"><path d="M-8 0C-5.5 -4.6 -2.5 -5.6 0 -5.6C2.5 -5.6 5.5 -4.6 8 0C5.5 4.6 2.5 5.6 0 5.6C-2.5 5.6 -5.5 4.6 -8 0Z"/><circle r="2.3"/><path d="M-6 6L6 -6"/></g><g transform="translate(72.2 175.2)" fill="none" stroke="#9a9da6" stroke-width="1.25"><path d="M-8 0C-5.5 -4.6 -2.5 -5.6 0 -5.6C2.5 -5.6 5.5 -4.6 8 0C5.5 4.6 2.5 5.6 0 5.6C-2.5 5.6 -5.5 4.6 -8 0Z"/><circle r="2.3"/><path d="M-6 6L6 -6"/></g>
<rect x="4" y="189.5" width="29" height="20" rx="3" fill="rgba(21,25,36,0.55)" stroke="#474b57" stroke-width="1"/>
<path d="M14.5 202L18.4 198L22.3 202" fill="none" stroke="#b2b5be" stroke-width="1.3"/>
</svg>
</body></html>
